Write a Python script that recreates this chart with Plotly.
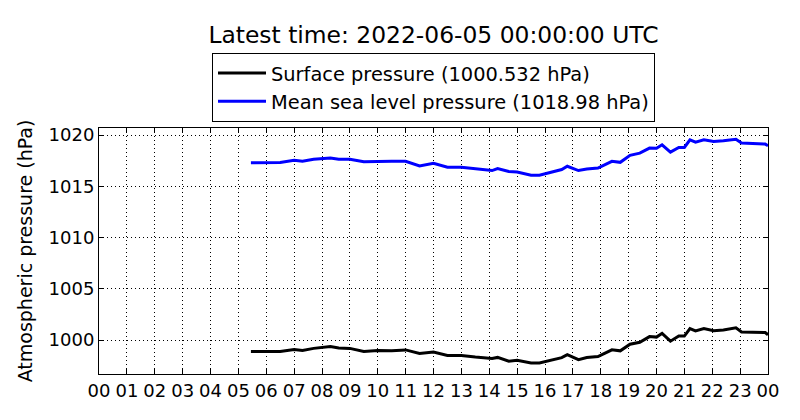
import plotly.graph_objects as pgo

# Datos ------------------------------------------------------
hours = [5.45, 6, 6.5, 7, 7.3, 7.7, 8.3, 8.6, 9, 9.5, 10, 10.5, 11, 11.5, 12,
         12.5, 13, 13.5, 14.1, 14.3, 14.7, 15, 15.5, 15.8, 16.2, 16.6, 16.8,
         17.2, 17.5, 17.9, 18.4, 18.7, 19.05, 19.4, 19.75, 20.0, 20.2, 20.5,
         20.8, 21.0, 21.2, 21.4, 21.7, 22.05, 22.4, 22.85, 23.05, 23.5, 23.9, 24.0]

msl = [1017.32, 1017.3, 1017.33, 1017.55, 1017.45, 1017.65, 1017.78, 1017.65,
       1017.65, 1017.4, 1017.45, 1017.45, 1017.45, 1017.0, 1017.26, 1016.87,
       1016.87, 1016.7, 1016.55, 1016.75, 1016.45, 1016.4, 1016.1, 1016.1,
       1016.4, 1016.65, 1016.97, 1016.55, 1016.7, 1016.8, 1017.45, 1017.35,
       1018.03, 1018.25, 1018.74, 1018.72, 1019.06, 1018.35, 1018.8, 1018.8,
       1019.55, 1019.32, 1019.55, 1019.39, 1019.45, 1019.6, 1019.23, 1019.2,
       1019.13, 1018.98]

surface = [998.9, 998.9, 998.9, 999.1, 999.0, 999.2, 999.38, 999.23, 999.2,
           998.9, 999.0, 998.98, 999.05, 998.7, 998.85, 998.5, 998.5, 998.35,
           998.22, 998.32, 997.95, 998.05, 997.78, 997.78, 998.05, 998.3,
           998.58, 998.1, 998.3, 998.4, 999.06, 998.96, 999.6, 999.8, 1000.35,
           1000.3, 1000.67, 999.9, 1000.4, 1000.4, 1001.13, 1000.9, 1001.13,
           1000.93, 1001.0, 1001.2, 1000.8, 1000.8, 1000.75, 1000.53]

tick_hours = list(range(0, 25))
tick_text = ["%02d" % (h % 24) for h in tick_hours]

# la pagina tiene 8px de margen en el body
W, H = 792, 412

fig = pgo.Figure()
fig.add_trace(pgo.Scatter(x=hours, y=surface, mode="lines",
                          name="Surface pressure (1000.532 hPa)",
                          line=dict(color="black", width=3)))
fig.add_trace(pgo.Scatter(x=hours, y=msl, mode="lines",
                          name="Mean sea level pressure (1018.98 hPa)",
                          line=dict(color="blue", width=3)))

ejes = dict(showline=True, linecolor="black", linewidth=1, mirror="allticks",
            ticks="inside", ticklen=5, tickcolor="black", automargin=False,
            showgrid=True, gridcolor="black", gridwidth=1, griddash="1px,3px",
            zeroline=False, tickfont=dict(size=18, color="black"))

fig.update_xaxes(range=[0, 24], tickvals=tick_hours, ticktext=tick_text, **ejes)
fig.update_yaxes(range=[996.7, 1020.7], tickvals=[1000, 1005, 1010, 1015, 1020],
                 title=dict(text="Atmospheric pressure (hPa)", font=dict(size=19, color="black"),
                            standoff=10), **ejes)

fig.update_layout(
    width=W, height=H,
    margin=dict(l=91, r=32, t=120, b=46),
    paper_bgcolor="white", plot_bgcolor="white",
    font=dict(family="DejaVu Sans", color="black"),
    title=dict(text="Latest time: 2022-06-05 00:00:00 UTC", font=dict(size=23.4),
               x=0.5, xref="paper", xanchor="center",
               y=1 - 27 / H, yref="container", yanchor="middle"),
    legend=dict(x=0.5, xanchor="center", xref="paper",
                y=1 - 45 / H, yanchor="top", yref="container",
                bordercolor="black", borderwidth=1, font=dict(size=19.4),
                bgcolor="white", tracegroupgap=0, itemwidth=48),
    showlegend=True,
)

fig.write_html("out.html")
